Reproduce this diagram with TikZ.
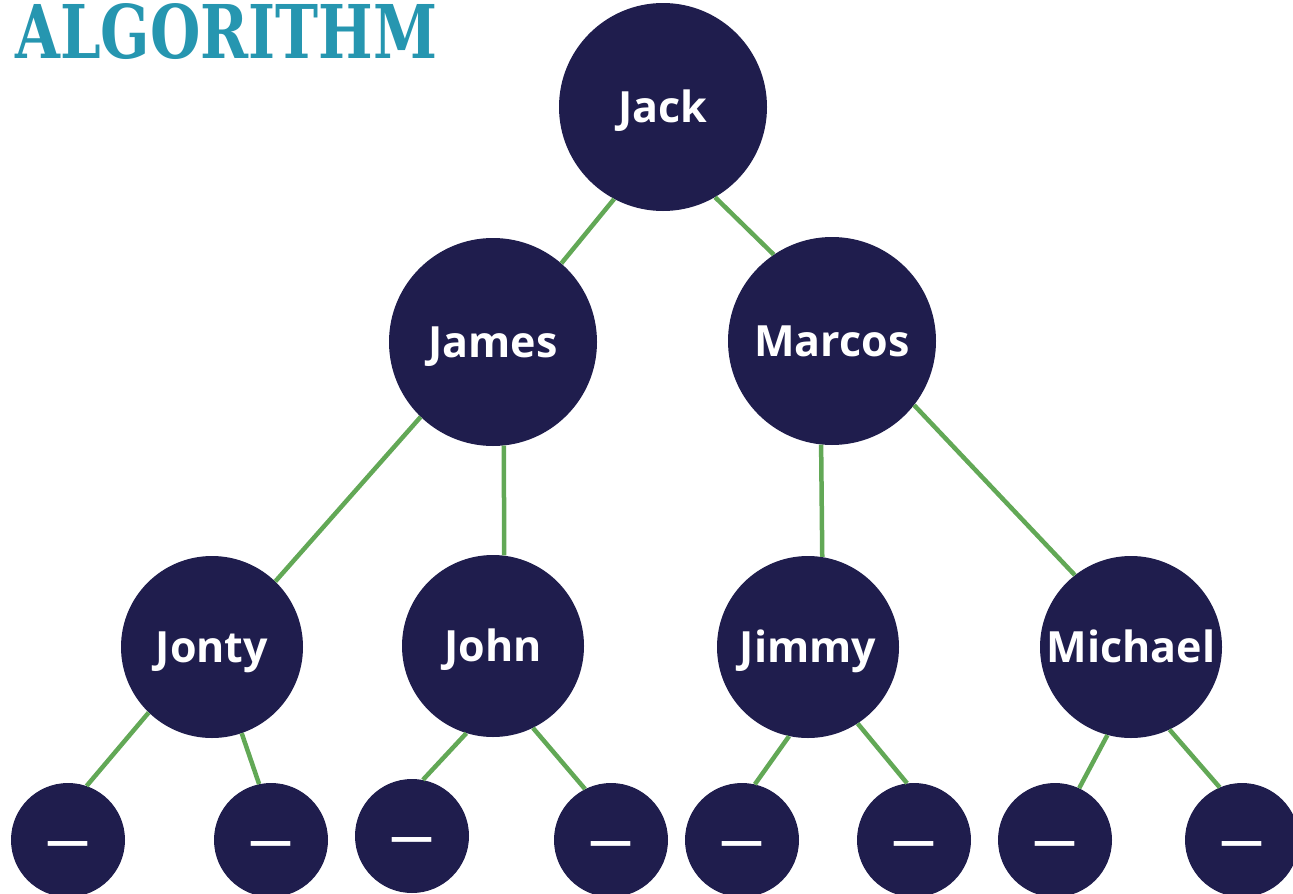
\documentclass[tikz,border=0pt]{standalone}
\usepackage{fontspec}
\setmainfont{Open Sans}
\newfontfamily\titlefont{DejaVu Serif}
\definecolor{navy}{RGB}{31,29,77}
\definecolor{edgegreen}{RGB}{98,168,86}
\definecolor{teal}{RGB}{38,150,176}
\begin{document}
\begin{tikzpicture}[x=1pt,y=-1pt,
  person/.style={circle,fill=navy,inner sep=0pt,text=white,
    font=\fontsize{43}{48}\selectfont\bfseries,text height=31pt,text depth=0pt},
  big/.style={person,minimum size=208pt},
  mid/.style={person,minimum size=182pt},
  leaf/.style={person,minimum size=114pt},
  link/.style={draw=edgegreen,line width=4.5pt}]
\useasboundingbox (0,0) rectangle (1293,894);
\node[anchor=north west,inner sep=0pt,text=teal] (title) at (15,3)
  {\resizebox{422pt}{55pt}{\titlefont\bfseries ALGORITHM}};
\node[big] (jack) at (663,107) {Jack};
\node[big] (james) at (493,342) {James};
\node[big] (marcos) at (832,341) {Marcos};
\node[mid] (jonty) at (212,647) {Jonty};
\node[mid] (john) at (493,646) {John};
\node[mid] (jimmy) at (808,647) {Jimmy};
\node[mid] (michael) at (1131,647) {Michael};
\node[leaf] (l1) at (68,840) {—};
\node[leaf] (l2) at (271,840) {—};
\node[leaf] (l3) at (412,836) {—};
\node[leaf] (l4) at (611,840) {—};
\node[leaf] (l5) at (742,840) {—};
\node[leaf] (l6) at (914,840) {—};
\node[leaf] (l7) at (1055,840) {—};
\node[leaf] (l8) at (1242,840) {—};
\draw[link] (jack.242.4) -- (james.49.6);
\draw[link] (jack.-60.3) -- (marcos.124.8);
\draw[link] (james.226.4) -- (jonty.46.7);
\draw[link] (james.-84) -- (john.83);
\draw[link] (marcos.264.5) -- (jimmy.81);
\draw[link] (marcos.-38.9) -- (michael.128.4);
\draw[link] (jonty.226.6) -- (l1.71);
\draw[link] (jonty.-71.2) -- (l2.102.3);
\draw[link] (john.253) -- (l3.79.7);
\draw[link] (john.-64) -- (l4.117.5);
\draw[link] (jimmy.258) -- (l5.77.7);
\draw[link] (jimmy.-57.7) -- (l6.97);
\draw[link] (michael.255) -- (l7.65.2);
\draw[link] (michael.-65) -- (l8.113.4);
\end{tikzpicture}
\end{document}
